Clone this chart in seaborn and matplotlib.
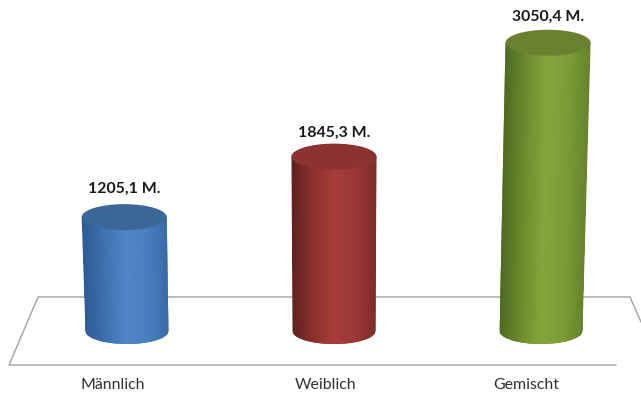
import numpy as np
import matplotlib
matplotlib.use("Agg")
import matplotlib.pyplot as plt
from matplotlib.colors import LinearSegmentedColormap, Normalize
from matplotlib.collections import QuadMesh
from matplotlib.patches import Ellipse
from matplotlib.path import Path
from matplotlib.lines import Line2D
import pandas as pd
import seaborn as sns

categories = ["Männlich", "Weiblich", "Gemischt"]
values = [1205.1, 1845.3, 3050.4]
value_labels = ["1205,1 M.", "1845,3 M.", "3050,4 M."]
side_colors = [
    ["#2c5a94", "#3d70ad", "#4f86c8", "#4a80c0", "#3a6ba8"],
    ["#5e2120", "#8a302d", "#a63c38", "#9c3835", "#7e2c2a"],
    ["#4c6a20", "#6b8a2e", "#84a43c", "#7d9c38", "#66842c"],
]
top_colors = ["#3d6699", "#8c3230", "#6a8230"]

W, H = 641, 398
AX_BOTTOM_PX = 370
BASE_PX, PX_PER_UNIT = 331, 0.0945
X0_PX, PX_PER_CAT = 127, 207
BAR_PX, RY_PX, LEAN = 83, 13, 0.0245

sns.set_theme(style="white")
plt.rcParams["font.family"] = ["Lato", "DejaVu Sans"]
fig = plt.figure(figsize=(W / 100, H / 100), dpi=100, facecolor="white")
ax = fig.add_axes([0, (H - AX_BOTTOM_PX) / H, 1, AX_BOTTOM_PX / H])

df = pd.DataFrame({"cat": categories, "val": values})
sns.barplot(data=df, x="cat", y="val", hue="cat", palette=[c[2] for c in side_colors],
            width=BAR_PX / PX_PER_CAT, legend=False, ax=ax, zorder=3, edgecolor="none")
ax.set_xlim(-X0_PX / PX_PER_CAT, (W - X0_PX) / PX_PER_CAT)
ax.set_ylim(-(AX_BOTTOM_PX - BASE_PX) / PX_PER_UNIT, BASE_PX / PX_PER_UNIT)
ax.set_xlabel("")
ax.set_ylabel("")
ax.set_yticks([])
sns.despine(ax=ax, left=True, bottom=True, right=True, top=True)
ax.patch.set_alpha(0)

# axis labels sit left of the bar feet, as in the 3D projection
tick_px = [113, 326, 526]
ax.set_xticks([(p - X0_PX) / PX_PER_CAT for p in tick_px])
ax.set_xticklabels(categories, fontsize=11.4, color="#303030")
ax.tick_params(axis="x", length=0, pad=6)

# floor plane
floor = [[(630, 297), (38, 297), (9, 365), (616, 365)], [(630, 297), (641, 322)]]
for seg in floor:
    xs, ys = zip(*seg)
    fig.add_artist(Line2D([x / W for x in xs], [1 - y / H for y in ys],
                          color="#a8a8a8", lw=1.1, zorder=-1))

rx = BAR_PX / 2 / PX_PER_CAT
ry = RY_PX / PX_PER_UNIT
t = np.linspace(0, np.pi, 60)
grid = np.linspace(0, 1, 91)
label_px = [28, 24, 26]
for i, (patch, v) in enumerate(zip(list(ax.patches), values)):
    lean = LEAN * (i - 1) * v * PX_PER_UNIT / PX_PER_CAT
    bx = i - rx * np.cos(t)
    by = -ry * np.sin(t)
    verts = np.r_[np.c_[bx, by],
                  [[i + lean + rx * 1.025, v], [i + lean - rx * 1.025, v]],
                  [[bx[0], by[0]]]]
    clip = Path(verts, closed=True)
    mesh_x = np.vstack([i - rx + 2 * rx * grid,
                        i + lean - rx * 1.025 + 2 * rx * 1.025 * grid])
    mesh_y = np.vstack([np.full_like(grid, -ry * 1.1), np.full_like(grid, v)])
    coords = np.dstack([mesh_x, mesh_y])
    cmap = LinearSegmentedColormap.from_list(f"c{i}", side_colors[i])
    mesh = QuadMesh(coords, cmap=cmap, norm=Normalize(0, 1), shading="flat",
                    array=0.5 * (grid[:-1] + grid[1:])[None, :], transform=ax.transData,
                    zorder=4, edgecolors="none", linewidth=0, antialiased=False)
    ax.add_collection(mesh, autolim=False)
    mesh.set_clip_path(clip, ax.transData)
    patch.set_clip_path(clip, ax.transData)
    ax.add_patch(Ellipse((i + lean, v), 2 * rx * 1.025, 2 * ry,
                         facecolor=top_colors[i], edgecolor="none", zorder=5))
    ax.annotate(value_labels[i], (i + lean, v), xytext=(0, label_px[i] * 0.72),
                textcoords="offset points", ha="center", va="center",
                fontsize=11.4, fontweight="bold", color="#1a1a1a",
                zorder=6, annotation_clip=False)

fig.savefig("out.png", dpi=100)
